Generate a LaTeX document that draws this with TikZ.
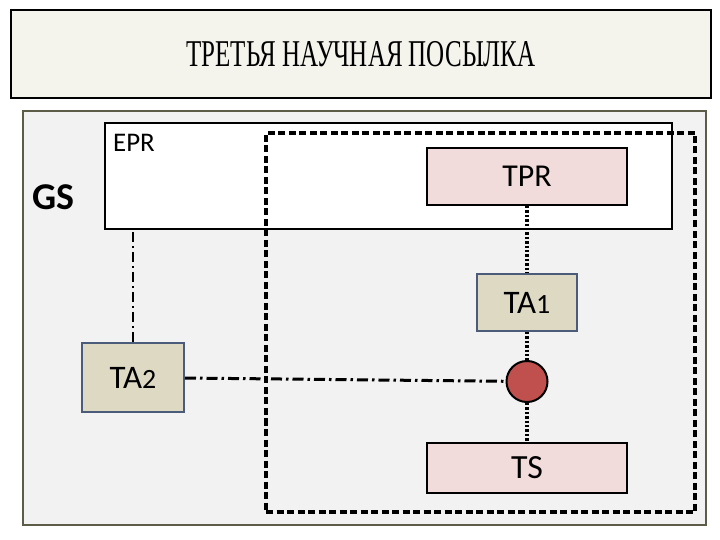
\documentclass[tikz,border=0pt]{standalone}
\usepackage{fontspec}
\setmainfont{Carlito}
\newfontfamily\titlefont{Liberation Serif}
\usepackage{graphicx}
\usepackage{xcolor}
\usetikzlibrary{positioning}
\definecolor{titlefill}{HTML}{F4F4EC}
\definecolor{framefill}{HTML}{F2F2F2}
\definecolor{frameline}{HTML}{5C5C48}
\definecolor{pinkfill}{HTML}{F2DCDB}
\definecolor{tanfill}{HTML}{DDD9C3}
\definecolor{tanline}{HTML}{4A5C7A}
\definecolor{dotred}{HTML}{C0504D}

\begin{document}
\begin{tikzpicture}[
				x=1bp, y=-1bp,
				titlebox/.style={rectangle, draw, line width=1.2bp, fill=titlefill, minimum width=700bp, minimum height=88bp},
				framebox/.style={rectangle, draw=frameline, line width=2bp, fill=framefill, minimum width=683bp, minimum height=414bp},
				eprbox/.style={rectangle, draw, line width=2.4bp, fill=white, minimum width=567bp, minimum height=106bp},
				zonebox/.style={rectangle, draw, line width=3.2bp, dash pattern=on 7bp off 3.5bp, minimum width=429bp, minimum height=379bp},
				pinkbox/.style={rectangle, draw, line width=2bp, fill=pinkfill, minimum width=200bp, font=\fontsize{32}{34}\selectfont},
				tanbox/.style={rectangle, draw=tanline, line width=2bp, fill=tanfill, font=\fontsize{33}{35}\selectfont},
				lbl/.style={inner sep=0pt, anchor=base west},
				dotline/.style={line width=3.2bp, dash pattern=on 2.4bp off 2bp},
				dashdotline/.style={line width=3bp, dash pattern=on 11bp off 4bp on 2.5bp off 4bp}
				]
				\useasboundingbox (0,0) rectangle (720,540);
				\node (A) [titlebox] at (361,54) {\scalebox{0.66}[1]{\titlefont\fontsize{38}{40}\selectfont ТРЕТЬЯ НАУЧНАЯ ПОСЫЛКА}};
				
				\node (B) [framebox] at (364.5,318) {};
				\node (C) [eprbox] at (388.5,176) {};
				\node (D) [zonebox] at (480.5,322.5) {};
				\node (J) [lbl, font=\bfseries\fontsize{38}{40}\selectfont] at (32,210) {GS};
				\node (K) [lbl, font=\fontsize{27}{29}\selectfont] at (113,152) {EPR};
				
				\node (E) [pinkbox, minimum height=57bp] at (527,176.5) {TPR};
				\node (F) [tanbox, minimum width=100bp, minimum height=57bp, below=67bp of E] {TA{\fontsize{28}{30}\selectfont 1}};
				\node (G) [circle, draw, line width=2bp, fill=dotred, minimum size=41bp, inner sep=0pt, below=28bp of F] {};
				\node (H) [pinkbox, minimum height=50bp, below=39bp of G, font=\fontsize{34}{36}\selectfont] {TS};
				\node (I) [tanbox, minimum width=102bp, minimum height=69bp] at (133,377.5) {TA{\fontsize{28}{30}\selectfont 2}};
				
				\draw [dotline] (E) -- (F);
				\draw [dotline] (F) -- (G);
				\draw [dotline] (G) -- (H);
				\draw [dashdotline] (I) -- (G);
				\draw [dashdotline, line width=2bp, dash pattern=on 10bp off 4bp on 2bp off 4bp] (I.north) -- (I.north |- C.south);
			\end{tikzpicture}
\end{document}
